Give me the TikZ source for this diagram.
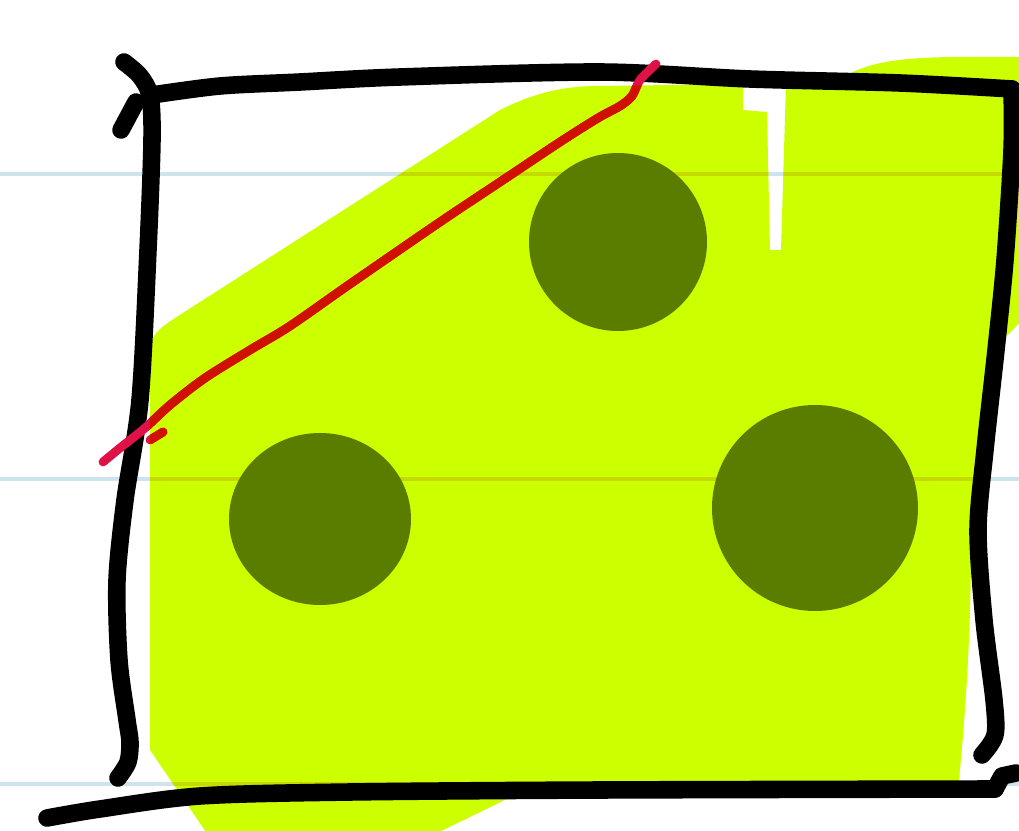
\documentclass[tikz,border=0pt]{standalone}
\usepackage{tikz}
\definecolor{hilite}{RGB}{204,255,0}
\definecolor{dot}{RGB}{90,125,0}
\definecolor{rule}{RGB}{205,228,238}
\definecolor{ruleon}{RGB}{196,218,0}
\definecolor{pen}{RGB}{222,18,70}
\definecolor{penon}{RGB}{208,16,0}
\tikzset{
  frame/.style={line width=10pt, line cap=round, line join=round},
  redpen/.style={line width=5pt, line cap=round, line join=round},
  ruled/.style={line width=2pt}
}
% highlighted area (with the small gap at the top)
\def\hlarea{(150,750) -- (150,350) .. controls (150,335) and (160,328) .. (175,318)
  -- (500,110) .. controls (540,90) and (570,86) .. (600,86) -- (743,84) -- (743,110)
  -- (767,112) -- (770,250) -- (781,250) -- (786,84) -- (845,76)
  .. controls (870,62) and (900,58) .. (950,57) -- (1030,57) -- (1030,312) -- (998,345)
  .. controls (985,420) and (972,480) .. (971,560) .. controls (970,650) and (965,720) .. (958,790)
  -- (515,795) -- (433,835) -- (208,835) -- cycle}

\begin{document}
\begin{tikzpicture}[x=0.02cm,y=-0.02cm]
\useasboundingbox (0,0) rectangle (1019,831);
\clip (0,0) rectangle (1019,831);
% ruled paper
\foreach \ry in {174,479,784}
  \draw[rule, ruled] (0,\ry) -- (1019,\ry);
% highlighter
\fill[hilite] \hlarea;
\begin{scope}
  \clip \hlarea;
  \foreach \ry in {174,479,784}
    \draw[ruleon, ruled] (0,\ry) -- (1019,\ry);
\end{scope}
% dots
\fill[dot] (618,242) circle [radius=89];
\fill[dot] (320,519) circle [x radius=91, y radius=86];
\fill[dot] (815,508) circle [radius=103];
% box
\draw[frame] plot[smooth] coordinates {(124,62) (140,76) (150,96) (152,140) (148,250) (140,400)
  (125,500) (117,580) (119,660) (127,720) (130,742) (128,762) (118,778)};
\draw[frame] (136,102) -- (121,130);
\draw[frame] plot[smooth] coordinates {(152,95) (220,86) (300,82) (400,77) (600,72) (750,79)
  (900,83) (1012,89)};
\draw[frame] plot[smooth] coordinates {(1012,89) (1012,150) (1005,260) (996,350) (985,450)
  (978,530) (984,620) (994,700) (995,735) (982,755)};
\draw[frame] plot[smooth] coordinates {(47,818) (100,809) (200,796) (350,792) (600,790)
  (995,789)};
\draw[frame] (995,789) -- (1002,776) -- (1016,773);
% red cut
\draw[pen, redpen] plot[smooth] coordinates {(656,64) (640,80) (632,96) (620,106) (598,118)
  (560,142) (500,182) (440,222) (350,284) (290,326) (250,350) (205,378) (170,405) (145,428)
  (120,448) (103,462)};
\draw[pen, redpen] (150,440) -- (163,432);
\begin{scope}
  \clip \hlarea;
  \draw[penon, redpen] plot[smooth] coordinates {(656,64) (640,80) (632,96) (620,106) (598,118)
    (560,142) (500,182) (440,222) (350,284) (290,326) (250,350) (205,378) (170,405) (145,428)
    (120,448) (103,462)};
  \draw[penon, redpen] (150,440) -- (163,432);
\end{scope}
\end{tikzpicture}
\end{document}
